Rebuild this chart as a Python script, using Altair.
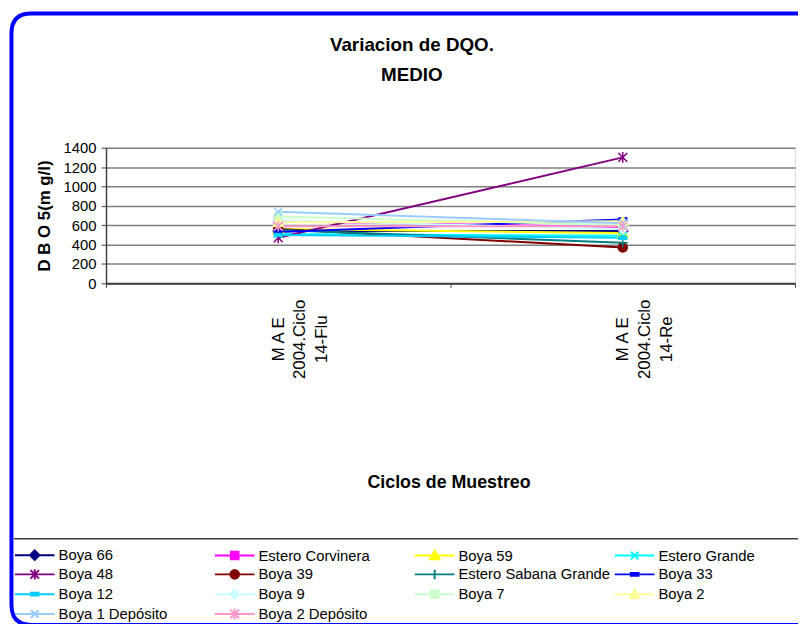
import math
import altair as alt
import pandas as pd

# ---------------- data ----------------
series = ["Boya 66", "Estero Corvinera", "Boya 59", "Estero Grande", "Boya 48", "Boya 39",
          "Estero Sabana Grande", "Boya 33", "Boya 12", "Boya 9", "Boya 7", "Boya 2",
          "Boya 1 Depósito", "Boya 2 Depósito"]
ciclos = ["M A E\n2004.Ciclo\n14-Flu", "M A E\n2004.Ciclo\n14-Re"]
valores_flu = [540, 640, 560, 510, 470, 560, 550, 530, 500, 650, 690, 630, 740, 590]
valores_re = [540, 580, 520, 490, 1300, 370, 420, 660, 470, 560, 600, 640, 620, 590]
y_ticks = [0, 200, 400, 600, 800, 1000, 1200, 1400]
titulo = ["Variacion de DQO.", "MEDIO"]

colors = ["#000080", "#FF00FF", "#FFFF00", "#00FFFF", "#800080", "#800000", "#008080",
          "#0000FF", "#00CCFF", "#CCFFFF", "#CCFFCC", "#FFFF99", "#99CCFF", "#FF99CC"]
markers = ["diamond", "square", "triangle", "x", "asterisk", "circle", "plus",
           "dash", "dash", "diamond", "square", "triangle", "x", "asterisk"]

rows = []
for s, a, b in zip(series, valores_flu, valores_re):
    rows.append({"serie": s, "ciclo": ciclos[0], "valor": a})
    rows.append({"serie": s, "ciclo": ciclos[1], "valor": b})
df = pd.DataFrame(rows)

FONT = "Liberation Sans"


def marker_path(kind, s):
    def p(x, y):
        return f"{x * s:.3f},{y * s:.3f}"
    if kind == "diamond":
        return f"M{p(0,-1)}L{p(1,0)}L{p(0,1)}L{p(-1,0)}Z"
    if kind == "square":
        return f"M{p(-0.8,-0.8)}L{p(0.8,-0.8)}L{p(0.8,0.8)}L{p(-0.8,0.8)}Z"
    if kind == "triangle":
        return f"M{p(0,-1)}L{p(1,0.8)}L{p(-1,0.8)}Z"
    if kind == "x":
        return f"M{p(-0.8,-0.8)}L{p(0.8,0.8)}M{p(-0.8,0.8)}L{p(0.8,-0.8)}"
    if kind == "asterisk":
        return (f"M{p(-0.9,-0.9)}L{p(0.9,0.9)}M{p(-0.9,0.9)}L{p(0.9,-0.9)}"
                f"M{p(0,-1.1)}L{p(0,1.1)}")
    if kind == "circle":
        pts = [p(0.9 * math.cos(2 * math.pi * k / 16), 0.9 * math.sin(2 * math.pi * k / 16))
               for k in range(16)]
        return "M" + "L".join(pts) + "Z"
    if kind == "plus":
        return f"M{p(-1,0)}L{p(1,0)}M{p(0,-1)}L{p(0,1)}"
    if kind == "dash":
        return f"M{p(-0.8,-0.3)}L{p(0.8,-0.3)}L{p(0.8,0.3)}L{p(-0.8,0.3)}Z"
    return ""


plot_shapes = [marker_path(m, 1.0) for m in markers]
legend_shapes = ["M-2.5,0L2.5,0" + marker_path(m, 0.6) for m in markers]

W, H = 696, 137

x_enc = alt.X(
    "ciclo:N", sort=ciclos,
    scale=alt.Scale(type="band", paddingInner=0, paddingOuter=0),
    axis=alt.Axis(
        title="Ciclos de Muestreo", titleFont=FONT, titleFontSize=18, titleFontWeight="bold",
        titleColor="black", titleX=346, titleY=201, titleAlign="center", titleBaseline="middle",
        labelAngle=270, labelExpr="split(datum.label, '\\n')", labelAlign="center",
        labelBaseline="middle", labelPadding=52, labelLineHeight=22, labelFont=FONT,
        labelFontSize=17, labelColor="black", tickBand="extent", tickSize=4,
        tickColor="#404040", domainColor="#404040", domainWidth=2, grid=False,
    ),
)
y_enc = alt.Y(
    "valor:Q",
    scale=alt.Scale(domain=[0, 1400], nice=False),
    axis=alt.Axis(
        values=y_ticks, format="d", title="D B O 5(m g/l)", titleFont=FONT, titleFontSize=17,
        titleFontWeight="bold", titleColor="black", titleX=-62, titleY=68.5, titleAngle=270,
        titleAlign="center", titleBaseline="middle", labelFont=FONT, labelFontSize=15,
        labelColor="black", labelPadding=5, tickSize=5, tickColor="#404040",
        domainColor="#404040", domainWidth=1.5, grid=True, gridColor="#7f7f7f",
        gridWidth=1.5,
    ),
)

lines = alt.Chart(df).mark_line(strokeWidth=2).encode(
    x=x_enc, y=y_enc,
    color=alt.Color("serie:N", scale=alt.Scale(domain=series, range=colors), legend=None),
)

points = alt.Chart(df).mark_point(filled=True, opacity=1, size=100, strokeWidth=1.5).encode(
    x=x_enc, y=y_enc,
    fill=alt.Fill("serie:N", scale=alt.Scale(domain=series, range=colors), legend=None),
    stroke=alt.Stroke("serie:N", scale=alt.Scale(domain=series, range=colors), legend=None),
    shape=alt.Shape("serie:N", scale=alt.Scale(domain=series, range=plot_shapes), legend=None),
)

leg = dict(title=None, orient="none", direction="horizontal", legendX=-81, legendY=402,
           columns=4, gridAlign="all", columnPadding=0, rowPadding=0, symbolSize=256,
           symbolStrokeWidth=2, labelFont=FONT, labelFontSize=15, labelColor="black",
           labelOffset=15, labelLimit=300, padding=0)

legend_layer = alt.Chart(df).mark_point(filled=True, opacity=1, strokeWidth=2).encode(
    fill=alt.Fill("serie:N", scale=alt.Scale(domain=series, range=colors), legend=alt.Legend(**leg)),
    stroke=alt.Stroke("serie:N", scale=alt.Scale(domain=series, range=colors), legend=alt.Legend(**leg)),
    shape=alt.Shape("serie:N", scale=alt.Scale(domain=series, range=legend_shapes), legend=alt.Legend(**leg)),
).transform_filter("false")

# decorative rounded frame (open on the right, like the cropped original)
L, T, R, B, RAD = -95.5, -135.5, 699, 482, 20
frame_path = (f"M{R},{T}L{L + RAD},{T}Q{L},{T} {L},{T + RAD}"
              f"L{L},{B - RAD}Q{L},{B} {L + RAD},{B}L{R},{B}")
frame_df = pd.DataFrame({"k": [0]})
frame = alt.Chart(frame_df).mark_point(
    shape=frame_path, size=4, filled=False, opacity=1, stroke="#0000FF", strokeWidth=4,
    fill="transparent"
).encode(x=alt.value(0), y=alt.value(0))

separator = alt.Chart(frame_df).mark_rule(color="#404040", strokeWidth=1.5).encode(
    x=alt.value(-93), x2=alt.value(699), y=alt.value(395)
)

title1 = alt.Chart(frame_df).mark_text(
    text=titulo[0], font=FONT, fontSize=19, fontWeight="bold", color="black",
    align="center", baseline="middle"
).encode(x=alt.value(309), y=alt.value(-104))
title2 = alt.Chart(frame_df).mark_text(
    text=titulo[1], font=FONT, fontSize=19, fontWeight="bold", color="black",
    align="center", baseline="middle"
).encode(x=alt.value(309), y=alt.value(-73))

chart = alt.layer(frame, separator, title1, title2, lines, points, legend_layer).resolve_scale(
    color="independent", fill="independent", stroke="independent", shape="independent"
).properties(
    width=W, height=H,
    autosize=alt.AutoSizeParams(type="none"),
    padding={"left": 99, "top": 138, "right": 3, "bottom": 341},
).configure_view(stroke="#7f7f7f", strokeWidth=1.5).configure(background="white")

chart.save("out.html", embed_options={"renderer": "svg", "actions": False})
